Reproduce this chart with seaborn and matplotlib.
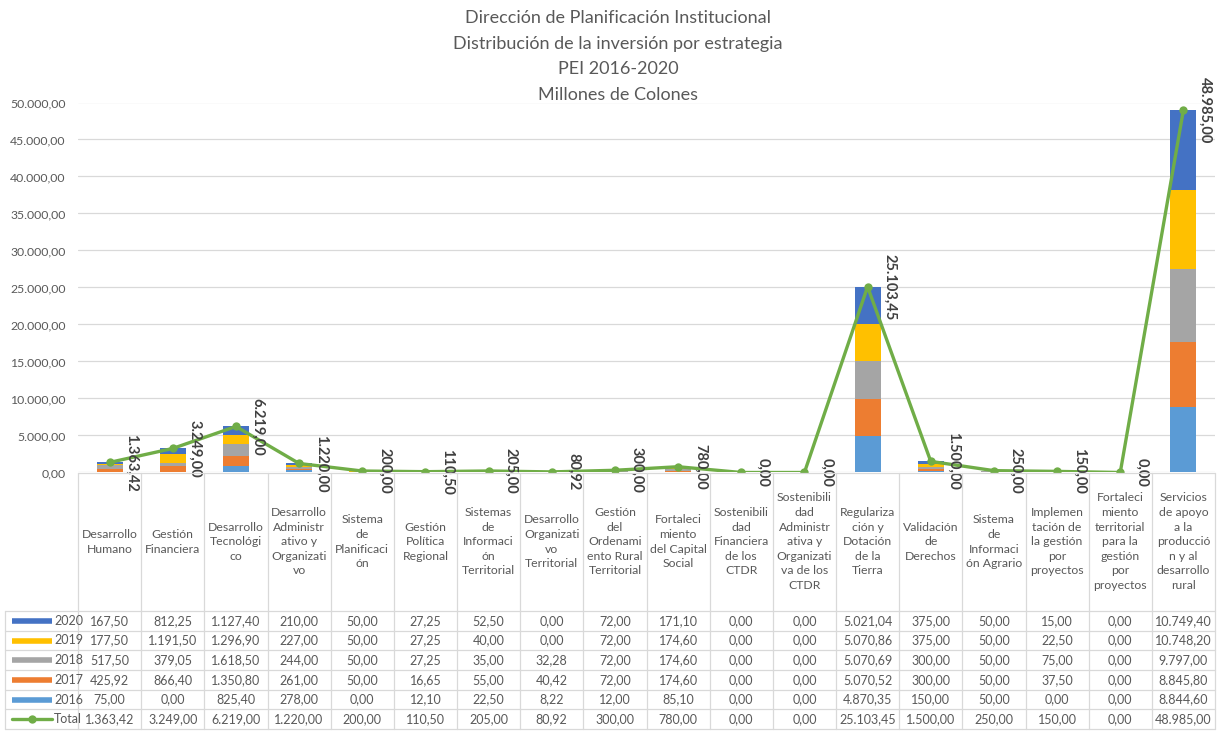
import numpy as np
import pandas as pd
import seaborn as sns
import matplotlib.pyplot as plt

# ------------------------------
# DATA (millones de colones)
# ------------------------------
categories = [
    "Desarrollo\nHumano",
    "Gestión\nFinanciera",
    "Desarrollo\nTecnológi\nco",
    "Desarrollo\nAdministr\nativo y\nOrganizati\nvo",
    "Sistema\nde\nPlanificaci\nón",
    "Gestión\nPolítica\nRegional",
    "Sistemas\nde\nInformaci\nón\nTerritorial",
    "Desarrollo\nOrganizati\nvo\nTerritorial",
    "Gestión\ndel\nOrdenami\nento Rural\nTerritorial",
    "Fortaleci\nmiento\ndel Capital\nSocial",
    "Sostenibili\ndad\nFinanciera\nde los\nCTDR",
    "Sostenibili\ndad\nAdministr\nativa y\nOrganizati\nva de los\nCTDR",
    "Regulariza\nción y\nDotación\nde la\nTierra",
    "Validación\nde\nDerechos",
    "Sistema\nde\nInformaci\nón Agrario",
    "Implemen\ntación de\nla gestión\npor\nproyectos",
    "Fortaleci\nmiento\nterritorial\npara la\ngestión\npor\nproyectos",
    "Servicios\nde apoyo\na la\nproducció\nn y al\ndesarrollo\nrural",
]

v2020 = [167.50, 812.25, 1127.40, 210.00, 50.00, 27.25, 52.50, 0.00, 72.00,
         171.10, 0.00, 0.00, 5021.04, 375.00, 50.00, 15.00, 0.00, 10749.40]
v2019 = [177.50, 1191.50, 1296.90, 227.00, 50.00, 27.25, 40.00, 0.00, 72.00,
         174.60, 0.00, 0.00, 5070.86, 375.00, 50.00, 22.50, 0.00, 10748.20]
v2018 = [517.50, 379.05, 1618.50, 244.00, 50.00, 27.25, 35.00, 32.28, 72.00,
         174.60, 0.00, 0.00, 5070.69, 300.00, 50.00, 75.00, 0.00, 9797.00]
v2017 = [425.92, 866.40, 1350.80, 261.00, 50.00, 16.65, 55.00, 40.42, 72.00,
         174.60, 0.00, 0.00, 5070.52, 300.00, 50.00, 37.50, 0.00, 8845.80]
v2016 = [75.00, 0.00, 825.40, 278.00, 0.00, 12.10, 22.50, 8.22, 12.00,
         85.10, 0.00, 0.00, 4870.35, 150.00, 50.00, 0.00, 0.00, 8844.60]
total = [1363.42, 3249.00, 6219.00, 1220.00, 200.00, 110.50, 205.00, 80.92, 300.00,
         780.00, 0.00, 0.00, 25103.45, 1500.00, 250.00, 150.00, 0.00, 48985.00]

y_ticks = [0, 5000, 10000, 15000, 20000, 25000, 30000, 35000, 40000, 45000, 50000]

title_lines = [
    "Dirección de Planificación Institucional",
    "Distribución de la inversión por estrategia",
    "PEI 2016-2020",
    "Millones de Colones",
]

series = {"2016": v2016, "2017": v2017, "2018": v2018, "2019": v2019, "2020": v2020}
colors = {"2016": "#5B9BD5", "2017": "#ED7D31", "2018": "#A5A5A5",
          "2019": "#FFC000", "2020": "#4472C4"}
line_color = "#70AD47"
text_gray = "#595959"
grid_gray = "#D9D9D9"


def fmt(v):
    # formato europeo: 1.363,42
    s = f"{v:,.2f}"
    return s.replace(",", "X").replace(".", ",").replace("X", ".")


sns.set_theme(style="white")
plt.rcParams["font.family"] = ["Lato", "DejaVu Sans"]

W, H = 1220, 743
fig = plt.figure(figsize=(W / 100, H / 100), dpi=100)

# layout in pixels
plot_l, plot_r = 78, 1215
plot_t, plot_b = 102.5, 472.5
table_b = 729
header_h = 611 - plot_b
n = len(categories)
col_w = (plot_r - plot_l) / n


def px_to_x(px):
    return (px - plot_l) / col_w - 0.5


ax = fig.add_axes([plot_l / W, 1 - plot_b / H, (plot_r - plot_l) / W, (plot_b - plot_t) / H])

# ------------------------------
# STACKED BARS (cumulative, drawn top-down)
# ------------------------------
df = pd.DataFrame(series)
stack_order = ["2016", "2017", "2018", "2019", "2020"]
cum = df[stack_order].cumsum(axis=1)
cum["cat"] = categories
for yr in reversed(stack_order):
    sns.barplot(data=cum, x="cat", y=yr, order=categories, color=colors[yr],
                saturation=1, width=0.41, errorbar=None, linewidth=0, ax=ax)

# Total line
sns.lineplot(x=np.arange(n), y=total, color=line_color, linewidth=2.4,
             marker="o", markersize=6, markeredgewidth=0, ax=ax, zorder=5)

for i, v in enumerate(total):
    ax.annotate(fmt(v), (i, v), xytext=(22, 0), textcoords="offset pixels",
                rotation=-90, ha="center", va="center", fontsize=10.5,
                fontweight="bold", color="#404040", annotation_clip=False, zorder=6)

ax.set_xlim(-0.5, n - 0.5)
ax.set_ylim(0, 50000)
ax.set_yticks(y_ticks)
ax.set_yticklabels([fmt(t) for t in y_ticks], fontsize=8.8, color=text_gray)
ax.tick_params(axis="y", length=0, pad=9)
ax.set_xticks([])
ax.set_xlabel("")
ax.set_ylabel("")
ax.yaxis.grid(True, color=grid_gray, linewidth=0.9)
ax.set_axisbelow(True)
for s in ax.spines.values():
    s.set_visible(False)

# ------------------------------
# DATA TABLE
# ------------------------------
ax_t = fig.add_axes([plot_l / W, 1 - table_b / H, (plot_r - plot_l) / W, (table_b - plot_b) / H])
ax_t.set_xlim(-0.5, n - 0.5)
ax_t.set_ylim(table_b - plot_b, 0)
ax_t.axis("off")

leg_l = px_to_x(5)
row_h = (table_b - plot_b - header_h) / 6
line_kw = dict(color=grid_gray, linewidth=0.9, clip_on=False)

for k in range(n + 1):
    ax_t.plot([k - 0.5, k - 0.5], [0, table_b - plot_b], **line_kw)
ax_t.plot([leg_l, leg_l], [header_h, table_b - plot_b], **line_kw)
ax_t.plot([-0.5, n - 0.5], [0, 0], **line_kw)
for j in range(7):
    yy = header_h + j * row_h
    ax_t.plot([leg_l, n - 0.5], [yy, yy], **line_kw)

for i, cat in enumerate(categories):
    ax_t.text(i, header_h / 2, cat, ha="center", va="center", fontsize=8.8,
              color=text_gray, linespacing=1.4)

rows = [("2020", v2020), ("2019", v2019), ("2018", v2018),
        ("2017", v2017), ("2016", v2016), ("Total", total)]
sw_l, sw_r, lab_x = px_to_x(12), px_to_x(52), px_to_x(54)
for j, (name, vals) in enumerate(rows):
    yc = header_h + (j + 0.5) * row_h
    if name == "Total":
        ax_t.plot([sw_l, sw_r], [yc, yc], color=line_color, linewidth=2.4, clip_on=False)
        ax_t.plot([(sw_l + sw_r) / 2], [yc], "o", color=line_color, markersize=6,
                  markeredgewidth=0, clip_on=False)
    else:
        ax_t.plot([sw_l, sw_r], [yc, yc], color=colors[name], linewidth=4,
                  solid_capstyle="butt", clip_on=False)
    ax_t.text(lab_x, yc, name, ha="left", va="center", fontsize=9, color=text_gray)
    for i, v in enumerate(vals):
        ax_t.text(i, yc, fmt(v), ha="center", va="center", fontsize=9, color=text_gray)

# ------------------------------
# TITLE
# ------------------------------
for k, line in enumerate(title_lines):
    fig.text(618 / W, 1 - (18 + k * 25.7) / H, line, ha="center", va="center",
             fontsize=13, color=text_gray)

fig.savefig("out.png", dpi=100)
